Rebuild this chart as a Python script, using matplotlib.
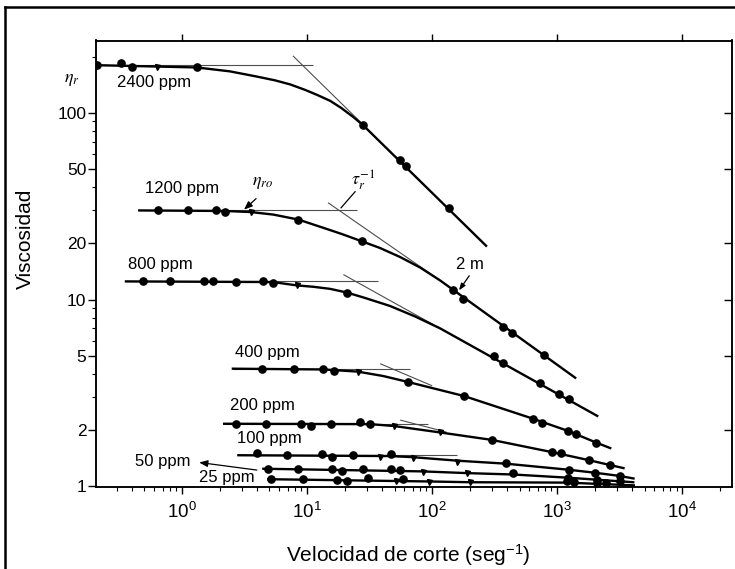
import numpy as np
import matplotlib
matplotlib.use('Agg')
import matplotlib.pyplot as plt
from matplotlib.ticker import FixedLocator, LogLocator, NullFormatter, FuncFormatter
from matplotlib.lines import Line2D

plt.rcParams['font.family'] = ['Liberation Sans', 'DejaVu Sans']
plt.rcParams['mathtext.fontset'] = 'custom'
plt.rcParams['mathtext.rm'] = 'Liberation Sans'
plt.rcParams['mathtext.it'] = 'Liberation Sans:italic'
plt.rcParams['mathtext.bf'] = 'Liberation Sans:bold'

# ---------------- data ----------------
# 2400 ppm
c2400_x = [0.208, 0.323, 0.396, 1.31, 28.1, 55.5, 61.9, 137]
c2400_y = [180, 184, 175, 175, 86.3, 56.1, 52.1, 31.0]
t2400_x = [0.628]
t2400_y = [175]
f2400_x = [0.205, 1.31, 2.42, 3.96, 5.55, 7.31, 9.64, 12.0, 15.3, 18.7, 23.3, 28.1, 270]
f2400_y = [180, 175, 166.7, 156.4, 149.2, 142, 132.7, 124.8, 115.9, 106.3, 95.2, 85.7, 19.4]
h2400_x = [0.205, 11.2]
h2400_y = [180.5, 180.5]
s2400_x = [7.7, 28.1]
s2400_y = [202, 86.3]

# 1200 ppm
c1200_x = [0.639, 1.11, 1.86, 2.21, 8.52, 27.4, 148, 178, 372, 434, 791]
c1200_y = [30.0, 30.0, 30.0, 29.6, 26.8, 20.5, 11.3, 10.1, 7.11, 6.63, 5.06]
t1200_x = [3.56]
t1200_y = [29.4]
f1200_x = [0.455, 2.21, 3.56, 5.37, 8.52, 13.5, 19.05, 27.4, 38.4, 55.5, 80.2, 116, 1393]
f1200_y = [30.0, 29.8, 29.4, 28.5, 26.8, 24.2, 22.4, 20.5, 18.86, 16.88, 14.83, 12.64, 3.81]
h1200_x = [0.455, 25.1]
h1200_y = [30.0, 30.0]
s1200_x = [14.7, 116]
s1200_y = [33.0, 12.64]

# 800 ppm
c800_x = [0.49, 0.80, 1.51, 1.78, 2.68, 4.42, 5.35, 20.8, 310, 368, 722, 1043, 1254]
c800_y = [12.5, 12.5, 12.5, 12.5, 12.4, 12.5, 12.3, 10.9, 4.97, 4.59, 3.55, 3.12, 2.93]
t800_x = [8.27]
t800_y = [11.9]
f800_x = [0.356, 5.35, 8.27, 11.2, 15.3, 20.8, 29.1, 46.1, 73.1, 116, 2089]
f800_y = [12.5, 12.4, 11.9, 11.7, 11.4, 10.9, 10.19, 9.23, 8.11, 7.0, 2.38]
h800_x = [0.356, 37]
h800_y = [12.5, 12.5]
s800_x = [19.5, 116]
s800_y = [13.6, 7.0]

# 400 ppm
c400_x = [4.34, 7.91, 13.5, 16.4, 63.7, 180, 639, 755, 1213, 1419, 2062]
c400_y = [4.26, 4.26, 4.22, 4.14, 3.62, 3.04, 2.30, 2.19, 1.98, 1.90, 1.71]
t400_x = [25.3]
t400_y = [4.11]
f400_x = [2.55, 13.5, 25.3, 40.7, 63.7, 180, 639, 1213, 2062, 2655]
f400_y = [4.26, 4.22, 4.11, 3.89, 3.62, 3.04, 2.30, 1.98, 1.71, 1.60]
h400_x = [2.55, 66.7]
h400_y = [4.26, 4.26]
s400_x = [38.4, 100]
s400_y = [4.53, 3.45]

# 200 ppm
c200_x = [2.70, 4.70, 8.95, 10.8, 15.5, 26.5, 31.9, 300, 917, 1071, 1780, 2620]
c200_y = [2.16, 2.16, 2.15, 2.10, 2.16, 2.22, 2.15, 1.77, 1.53, 1.50, 1.38, 1.30]
t200_x = [49.7, 116]
t200_y = [2.10, 1.94]
f200_x = [2.17, 31.9, 49.7, 116, 300, 917, 1780, 2620, 3390]
f200_y = [2.16, 2.15, 2.10, 1.94, 1.77, 1.52, 1.38, 1.30, 1.25]
h200_x = [2.17, 93]
h200_y = [2.16, 2.16]
s200_x = [55.5, 130]
s200_y = [2.26, 1.95]

# 100 ppm
c100_x = [4.0, 6.95, 13.1, 15.8, 23.2, 46.7, 389, 1232, 2014, 3150]
c100_y = [1.50, 1.465, 1.48, 1.44, 1.465, 1.48, 1.33, 1.22, 1.18, 1.135]
t100_x = [38.4, 70.5, 158]
t100_y = [1.43, 1.42, 1.355]
f100_x = [2.82, 46.7, 70.5, 158, 389, 1232, 2014, 3150, 4077]
f100_y = [1.465, 1.45, 1.43, 1.37, 1.32, 1.225, 1.18, 1.135, 1.10]
h100_x = [2.82, 158]
h100_y = [1.465, 1.465]

# 50 ppm
c50_x = [4.90, 8.51, 15.8, 18.9, 28.2, 46.7, 55.7, 447, 1230, 2080, 3150]
c50_y = [1.24, 1.23, 1.23, 1.21, 1.24, 1.23, 1.22, 1.17, 1.11, 1.08, 1.065]
t50_x = [84.3, 190]
t50_y = [1.19, 1.17]
f50_x = [4.47, 84.3, 190, 447, 1230, 4055]
f50_y = [1.24, 1.20, 1.175, 1.155, 1.11, 1.05]

# 25 ppm
c25_x = [5.13, 9.24, 17.3, 20.8, 30.9, 59, 1208, 1353, 2100, 2448]
c25_y = [1.09, 1.09, 1.08, 1.067, 1.10, 1.09, 1.06, 1.05, 1.04, 1.035]
t25_x = [51.5, 93.5, 201]
t25_y = [1.067, 1.054, 1.047]
f25_x = [4.9, 93.5, 201, 1208, 4100]
f25_y = [1.09, 1.06, 1.05, 1.045, 1.01]

labels = ['2400 ppm', '1200 ppm', '800 ppm', '400 ppm', '200 ppm', '100 ppm', '50 ppm', '25 ppm']

series = [
    dict(c=(c2400_x, c2400_y), t=(t2400_x, t2400_y), f=(f2400_x, f2400_y), h=(h2400_x, h2400_y), s=(s2400_x, s2400_y)),
    dict(c=(c1200_x, c1200_y), t=(t1200_x, t1200_y), f=(f1200_x, f1200_y), h=(h1200_x, h1200_y), s=(s1200_x, s1200_y)),
    dict(c=(c800_x, c800_y), t=(t800_x, t800_y), f=(f800_x, f800_y), h=(h800_x, h800_y), s=(s800_x, s800_y)),
    dict(c=(c400_x, c400_y), t=(t400_x, t400_y), f=(f400_x, f400_y), h=(h400_x, h400_y), s=(s400_x, s400_y)),
    dict(c=(c200_x, c200_y), t=(t200_x, t200_y), f=(f200_x, f200_y), h=(h200_x, h200_y), s=(s200_x, s200_y)),
    dict(c=(c100_x, c100_y), t=(t100_x, t100_y), f=(f100_x, f100_y), h=(h100_x, h100_y), s=None),
    dict(c=(c50_x, c50_y), t=(t50_x, t50_y), f=(f50_x, f50_y), h=None, s=None),
    dict(c=(c25_x, c25_y), t=(t25_x, t25_y), f=(f25_x, f25_y), h=None, s=None),
]

ytick_vals = [1, 2, 5, 10, 20, 50, 100]

# ---------------- figure ----------------
W, H = 735, 569
fig = plt.figure(figsize=(W / 100, H / 100), dpi=100)
ax = fig.add_axes([96 / W, 1 - 487 / H, (732 - 96) / W, (487 - 40.5) / H])
ax.set_xscale('log')
ax.set_yscale('log')
ax.set_xlim(0.205, 25000)
ax.set_ylim(0.99, 244)

thin = dict(color='0.3', lw=0.8, solid_capstyle='butt', zorder=2)
for s in series:
    if s['h'] is not None:
        ax.plot(*s['h'], **thin)
    if s['s'] is not None:
        ax.plot(*s['s'], **thin)
    ax.plot(*s['f'], color='k', lw=1.7, zorder=3, solid_joinstyle='round')
    ax.plot(*s['c'], 'o', color='k', ms=5.2, zorder=4)
    ax.plot(*s['t'], 'v', color='k', ms=3.6, zorder=4)

# series labels
lab_pos = [(0.597, 144.6), (1.0, 39.2), (0.667, 15.4), (4.79, 5.21),
           (4.37, 2.71), (4.97, 1.805), (1.16, 1.36), (2.29, 1.117)]
for lab, (lx, ly) in zip(labels, lab_pos):
    ha = 'right' if lab == '50 ppm' else 'center'
    ax.text(lx, ly, lab, fontsize=12, ha=ha, va='center', zorder=5)

# 50 ppm arrow
ax.annotate('', xy=(1.37, 1.34), xytext=(3.96, 1.22),
            arrowprops=dict(arrowstyle='-|>,head_length=0.5,head_width=0.2', color='k', lw=0.9,
                            shrinkA=0, shrinkB=0))

# eta_r label
ax.text(0.132, 150, r'$\eta_r$', fontsize=13, ha='center', va='center', math_fontfamily='stix',
        clip_on=False)
# eta_ro
ax.text(4.45, 42.2, r'$\eta_{ro}$', fontsize=13, ha='center', va='center', math_fontfamily='stix')
ax.annotate('', xy=(3.13, 30.3), xytext=(3.91, 34.7),
            arrowprops=dict(arrowstyle='-|>,head_length=0.5,head_width=0.2', color='k', lw=0.9,
                            shrinkA=0, shrinkB=0))
# tau_r^-1
ax.text(28.1, 43.8, r'$\tau_r^{-1}$', fontsize=13, ha='center', va='center', math_fontfamily='stix')
ax.plot([24.2, 18.7], [37.8, 31.0], color='k', lw=0.9)
# 2 m
ax.text(201, 15.4, '2 m', fontsize=12, ha='center', va='center')
ax.annotate('', xy=(164, 11.2), xytext=(198, 13.4),
            arrowprops=dict(arrowstyle='-|>,head_length=0.4,head_width=0.15', color='k', lw=0.9,
                            shrinkA=0, shrinkB=0))

# ---------------- ticks ----------------
ax.yaxis.set_major_locator(FixedLocator(ytick_vals))
ax.yaxis.set_major_formatter(FuncFormatter(lambda v, p: '%g' % v))
ax.yaxis.set_minor_locator(LogLocator(base=10, subs=np.arange(2, 10)))
ax.yaxis.set_minor_formatter(NullFormatter())
ax.xaxis.set_major_locator(LogLocator(base=10, numticks=20))
ax.xaxis.set_minor_locator(LogLocator(base=10, subs=np.arange(2, 10), numticks=20))
ax.xaxis.set_minor_formatter(NullFormatter())

ax.tick_params(axis='both', which='major', direction='out', width=1.0, colors='k')
ax.tick_params(axis='y', which='major', length=6, pad=1, labelsize=12.5, right=False)
ax.tick_params(axis='y', which='minor', length=3, width=0.8, right=False, direction='out')
ax.tick_params(axis='x', which='major', length=5, pad=6, labelsize=13.5, top=True)
ax.tick_params(axis='x', which='minor', length=3, width=0.8, top=False, direction='out')

# right side: inward major ticks only
axr = ax.twinx()
axr.set_yscale('log')
axr.set_ylim(ax.get_ylim())
axr.yaxis.set_major_locator(FixedLocator(ytick_vals[1:]))
axr.yaxis.set_minor_locator(FixedLocator([]))
axr.tick_params(axis='y', which='major', direction='in', length=6, width=1.0, labelright=False)

for a in (ax, axr):
    for sp in a.spines.values():
        sp.set_linewidth(1.1)

ax.set_xlabel('Velocidad de corte (seg$^{-1}$)', fontsize=15)
ax.xaxis.set_label_coords((408 - 96) / 636, (487 - 562) / 446.5)
ax.xaxis.label.set_va('baseline')
ax.set_ylabel('Viscosidad', fontsize=15)
ax.yaxis.set_label_coords((31 - 96) / 636, (487 - 239) / 446.5)
ax.yaxis.label.set_va('baseline')

# outer frame (left and top edges of the scanned box)
fig.add_artist(Line2D([5 / W, 5 / W], [0, 1 - 7 / H], color='k', lw=1.8, transform=fig.transFigure))
fig.add_artist(Line2D([5 / W, 1], [1 - 7 / H, 1 - 7 / H], color='k', lw=1.8, transform=fig.transFigure))

fig.savefig('out.png', dpi=100)
